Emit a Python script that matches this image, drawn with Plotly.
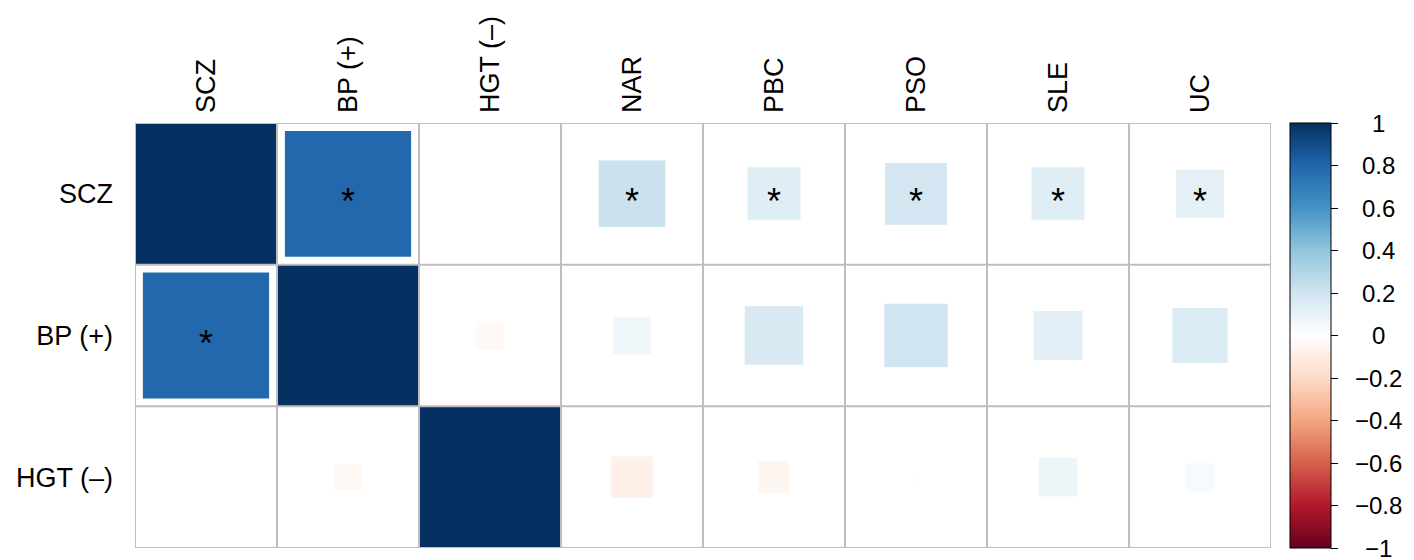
import numpy as np
import plotly.graph_objects as go
from plotly.colors import sample_colorscale

row_labels = ["SCZ", "BP (+)", "HGT (–)"]
col_labels = ["SCZ", "BP (+)", "HGT (–)", "NAR", "PBC", "PSO", "SLE", "UC"]

corr_scz = [1.0, 0.79, 0.0, 0.22, 0.14, 0.19, 0.14, 0.115]
corr_bp = [0.79, 1.0, -0.04, 0.07, 0.17, 0.20, 0.12, 0.15]
corr_hgt = [0.0, -0.035, 1.0, -0.085, -0.05, 0.005, 0.075, 0.04]

sig_scz = [0, 1, 0, 1, 1, 1, 1, 1]
sig_bp = [1, 0, 0, 0, 0, 0, 0, 0]
sig_hgt = [0, 0, 0, 0, 0, 0, 0, 0]

cbar_ticks = [-1, -0.8, -0.6, -0.4, -0.2, 0, 0.2, 0.4, 0.6, 0.8, 1]

corr = np.array([corr_scz, corr_bp, corr_hgt])
sig = np.array([sig_scz, sig_bp, sig_hgt])

rdbu = ["#67001F", "#B2182B", "#D6604D", "#F4A582", "#FDDBC7", "#FFFFFF",
        "#D1E5F0", "#92C5DE", "#4393C3", "#2166AC", "#053061"]
colorscale = [[i / 10, c] for i, c in enumerate(rdbu)]

FONT = "Liberation Sans, Arial, Helvetica, sans-serif"
GRID = "#BEBEBE"

fig = go.Figure()

shapes = []
annotations = []
nr, nc = corr.shape
for i in range(nr):
    for j in range(nc):
        v = corr[i, j]
        s = np.sqrt(abs(v))
        col = sample_colorscale(colorscale, [(v + 1) / 2])[0]
        if s > 0:
            shapes.append(dict(type="rect", xref="x", yref="y",
                               x0=j - s / 2, x1=j + s / 2,
                               y0=i - s / 2, y1=i + s / 2,
                               fillcolor=col, line=dict(width=0), layer="below"))
        if sig[i, j]:
            annotations.append(dict(x=j, y=i, xref="x", yref="y", text="*",
                                    showarrow=False, yshift=-8,
                                    font=dict(family=FONT, size=36, color="black")))

# grid
for j in range(nc + 1):
    shapes.append(dict(type="line", xref="x", yref="y", x0=j - 0.5, x1=j - 0.5,
                       y0=-0.5, y1=nr - 0.5, line=dict(color=GRID, width=2), layer="above"))
for i in range(nr + 1):
    shapes.append(dict(type="line", xref="x", yref="y", x0=-0.5, x1=nc - 0.5,
                       y0=i - 0.5, y1=i - 0.5, line=dict(color=GRID, width=2), layer="above"))

# colorbar carrier
fig.add_trace(go.Scatter(
    x=[0], y=[0], mode="markers", hoverinfo="skip", showlegend=False,
    marker=dict(size=0, opacity=0, color=[0], cmin=-1, cmax=1,
                colorscale=colorscale, showscale=True,
                colorbar=dict(x=1.0167, xanchor="left", xpad=0, ypad=0,
                              y=0.5, yanchor="middle", len=1, lenmode="fraction",
                              thickness=41, outlinewidth=1, outlinecolor="black",
                              ticks="outside", ticklen=7, tickwidth=1,
                              tickcolor="black", tickvals=cbar_ticks,
                              showticklabels=False))))

for t in cbar_ticks:
    annotations.append(dict(x=1.0942, y=(t + 1) / 2, xref="paper", yref="paper",
                            text=("−" if t < 0 else "") + f"{abs(t):g}",
                            showarrow=False, xanchor="center", yanchor="middle",
                            font=dict(family=FONT, size=24, color="black")))

fig.update_layout(
    width=1406, height=552,
    margin=dict(l=127, r=143, t=115, b=12, autoexpand=False),
    paper_bgcolor="white", plot_bgcolor="white",
    shapes=shapes, annotations=annotations,
    xaxis=dict(range=[-0.5, nc - 0.5], side="top", tickmode="array",
               tickvals=list(range(nc)), ticktext=col_labels, tickangle=-90,
               showgrid=False, zeroline=False, showline=False, ticks="",
               ticklabelstandoff=9, automargin=False,
               tickfont=dict(family=FONT, size=27, color="black")),
    yaxis=dict(range=[nr - 0.5, -0.5], tickmode="array",
               tickvals=list(range(nr)), ticktext=row_labels,
               showgrid=False, zeroline=False, showline=False, ticks="",
               ticklabelstandoff=21, automargin=False,
               tickfont=dict(family=FONT, size=27, color="black")),
)

fig.write_html("out.html")
